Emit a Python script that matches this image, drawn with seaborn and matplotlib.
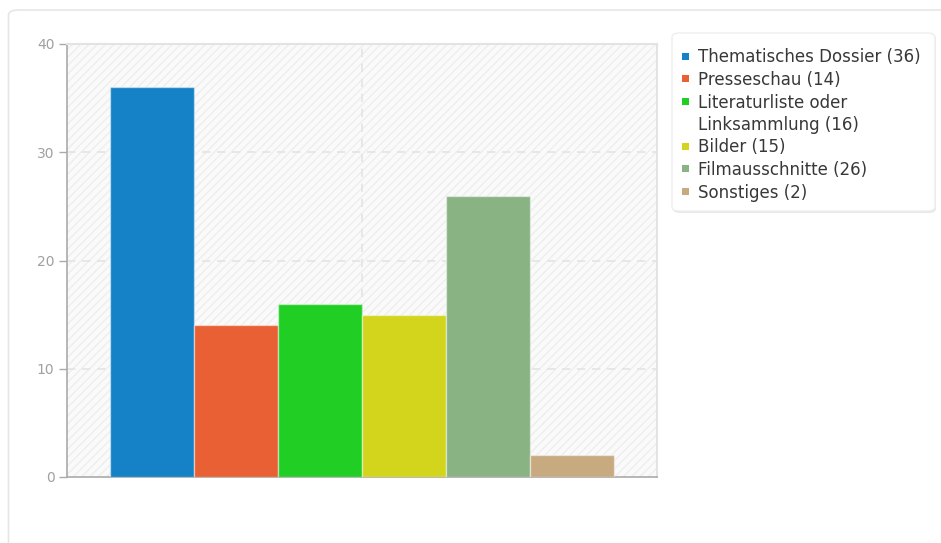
import matplotlib
matplotlib.use("Agg")
import matplotlib.pyplot as plt
from matplotlib.patches import Rectangle, FancyBboxPatch
import seaborn as sns
import pandas as pd

categories = ["Thematisches Dossier", "Presseschau", "Literaturliste oder\nLinksammlung",
              "Bilder", "Filmausschnitte", "Sonstiges"]
counts = [36, 14, 16, 15, 26, 2]
colors = ["#1581c6", "#e86033", "#21cf24", "#d3d51c", "#89b383", "#c8aa80"]
y_ticks = [0, 10, 20, 30, 40]

sns.set_theme(style="white")
plt.rcParams["font.family"] = ["DejaVu Sans"]

W, H = 941, 543
fig = plt.figure(figsize=(W / 100, H / 100), dpi=100)
fig.patch.set_facecolor("white")

# card outline behind the chart
card = FancyBboxPatch((8.5 / W, -20 / H), (W + 20) / W, (H - 10 + 20) / H,
                      boxstyle="round,pad=0,rounding_size=0.01",
                      transform=fig.transFigure, facecolor="white",
                      edgecolor="#e6e6e6", linewidth=1.2, zorder=-5)
fig.patches.append(card)

ax = fig.add_axes([67 / W, 66 / H, 590 / W, 433 / H])
ax.set_zorder(2)
ax.set_facecolor("#fafafa")
ax.add_patch(Rectangle((0, 0), 1, 1, transform=ax.transAxes, facecolor="none",
                       edgecolor="#eeeeee", hatch="////", linewidth=0, zorder=0))

df = pd.DataFrame({"grp": [""] * len(categories), "cat": categories, "n": counts})
sns.barplot(data=df, x="grp", y="n", hue="cat", hue_order=categories,
            palette=colors, width=0.854, dodge=True, saturation=1,
            edgecolor=(1, 1, 1, 0.45), linewidth=1, legend=False, ax=ax, zorder=3)

ax.set_ylim(0, 40)
ax.set_xlim(-0.5, 0.5)
ax.set_yticks(y_ticks)
ax.set_yticklabels([str(t) for t in y_ticks])
ax.set_xticks([])
ax.set_xlabel("")
ax.set_ylabel("")

for y in y_ticks[1:-1]:
    ax.axhline(y, color="#e4e4e4", linestyle=(0, (5, 4)), linewidth=1.2, zorder=1)
ax.axvline(0, color="#e4e4e4", linestyle=(0, (5, 4)), linewidth=1.2, zorder=1)

for side in ["top", "right"]:
    ax.spines[side].set_color("#e3e3e3")
    ax.spines[side].set_linewidth(1.5)
for side in ["left", "bottom"]:
    ax.spines[side].set_color("#aaaaaa")
    ax.spines[side].set_linewidth(1.2)

ax.tick_params(axis="y", which="major", left=True, length=6, width=1,
               color="#aaaaaa", labelcolor="#a0a0a0", labelsize=10, pad=3)

# legend box
lx0, ly0, lx1, ly1 = 672, 33, 935, 211
shadow = FancyBboxPatch(((lx0 + 1) / W, 1 - (ly1 + 2) / H), (lx1 - lx0) / W, (ly1 - ly0) / H,
                        boxstyle="round,pad=0,rounding_size=0.008",
                        transform=fig.transFigure, facecolor="#e8e8e8",
                        edgecolor="none", zorder=1)
fig.patches.append(shadow)
box = FancyBboxPatch((lx0 / W, 1 - ly1 / H), (lx1 - lx0) / W, (ly1 - ly0) / H,
                     boxstyle="round,pad=0,rounding_size=0.008",
                     transform=fig.transFigure, facecolor="white",
                     edgecolor="#eeeeee", linewidth=1, zorder=2)
fig.patches.append(box)

line_h = 22.5
y = 56
for cat, n, c in zip(categories, counts, colors):
    fig.patches.append(Rectangle((682 / W, 1 - (y + 3.5) / H), 7 / W, 7 / H,
                                 transform=fig.transFigure, facecolor=c,
                                 edgecolor="none", zorder=3))
    lines = f"{cat} ({n})".split("\n")
    for line in lines:
        fig.text(698 / W, 1 - (y - 0.5) / H, line, fontsize=12, color="#383838",
                 va="center_baseline", ha="left", zorder=4)
        y += line_h

fig.savefig("out.png", dpi=100)
